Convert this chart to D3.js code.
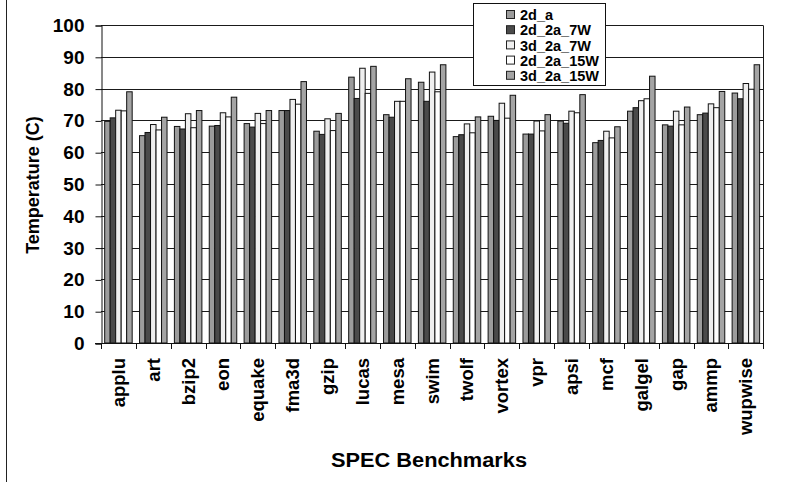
<!DOCTYPE html>
<html>
<head>
<meta charset="utf-8">
<script src="https://cdn.jsdelivr.net/npm/d3@7"></script>
<style>
  html, body { margin: 0; padding: 0; background: #fff; }
  svg text { font-family: Arial, "Liberation Sans", sans-serif; font-weight: bold; fill: #000; }
</style>
</head>
<body>
<svg id="chart" width="802" height="482"></svg>
<script>
// Benchmarks on the x axis
const benchmarks = ["applu", "art", "bzip2", "eon", "equake", "fma3d", "gzip", "lucas", "mesa", "swim",
                    "twolf", "vortex", "vpr", "apsi", "mcf", "galgel", "gap", "ammp", "wupwise"];

// Series names (legend order)
const seriesNames = ["2d_a", "2d_2a_7W", "3d_2a_7W", "2d_2a_15W", "3d_2a_15W"];

// Peak temperature (C) per benchmark, one array per configuration
const temp2d_a      = [69.7, 65.2, 68.1, 68.2, 69.0, 73.1, 66.6, 83.6, 71.8, 82.0, 64.9, 71.3, 65.7, 69.8, 63.0, 72.9, 68.6, 71.8, 78.6];
const temp2d_2a_7W  = [70.8, 66.2, 67.3, 68.4, 67.9, 73.1, 65.6, 76.9, 71.0, 76.0, 65.5, 70.0, 65.7, 69.1, 63.7, 74.0, 68.2, 72.3, 76.8];
const temp3d_2a_7W  = [73.2, 68.7, 72.1, 72.4, 72.2, 76.6, 70.5, 86.4, 76.0, 85.2, 68.9, 75.4, 69.8, 72.9, 66.6, 76.2, 72.9, 75.2, 81.6];
const temp2d_2a_15W = [73.0, 67.0, 67.7, 71.1, 69.0, 75.1, 66.8, 78.5, 76.0, 79.0, 66.1, 70.7, 66.7, 72.4, 64.5, 76.8, 68.6, 74.0, 79.8];
const temp3d_2a_15W = [79.0, 71.0, 73.1, 77.3, 73.1, 82.2, 72.2, 87.0, 83.1, 87.5, 71.1, 77.9, 71.8, 78.1, 68.0, 83.9, 74.2, 79.1, 87.5];

// Y axis ticks
const yTicks = [0, 10, 20, 30, 40, 50, 60, 70, 80, 90, 100];

const seriesValues = [temp2d_a, temp2d_2a_7W, temp3d_2a_7W, temp2d_2a_15W, temp3d_2a_15W];
const seriesFill = ["#9c9c9c", "#4a4a4a", "#efefef", "#ffffff", "#a4a4a4"];

const svg = d3.select("#chart");
svg.append("rect").attr("width", 802).attr("height", 482).attr("fill", "#fff");

// frame line along the left edge
svg.append("line").attr("x1", 6.5).attr("x2", 6.5).attr("y1", 0).attr("y2", 482)
  .attr("stroke", "#222").attr("stroke-width", 1);

const plotLeft = 101, plotRight = 763.3, plotTop = 25, plotBottom = 343;

const x = d3.scaleBand().domain(benchmarks).range([plotLeft, plotRight]).padding(0);
const y = d3.scaleLinear().domain([0, 100]).range([plotBottom, plotTop]);
const groupW = 27.5;
const xs = d3.scaleBand().domain(seriesNames).range([0, groupW]).padding(0);

// horizontal grid lines
svg.append("g").selectAll("line").data(yTicks.filter(d => d > 0)).join("line")
  .attr("x1", plotLeft).attr("x2", plotRight)
  .attr("y1", d => Math.round(y(d)) + 0.5).attr("y2", d => Math.round(y(d)) + 0.5)
  .attr("stroke", "#1a1a1a").attr("stroke-width", 1);

// right border of the plot
svg.append("line").attr("x1", Math.round(plotRight) + 0.5).attr("x2", Math.round(plotRight) + 0.5)
  .attr("y1", Math.round(y(100)) + 0.5).attr("y2", plotBottom + 0.5)
  .attr("stroke", "#1a1a1a");

// bars
const groups = svg.append("g").selectAll("g").data(benchmarks).join("g")
  .attr("transform", d => `translate(${x(d) + (x.bandwidth() - groupW) / 2},0)`);
groups.selectAll("rect")
  .data((b, i) => seriesNames.map((s, k) => ({ s, k, v: seriesValues[k][i] })))
  .join("rect")
  .attr("x", d => xs(d.s))
  .attr("width", xs.bandwidth())
  .attr("y", d => y(d.v))
  .attr("height", d => plotBottom - y(d.v))
  .attr("fill", d => seriesFill[d.k])
  .attr("stroke", "#111")
  .attr("stroke-width", 1);

// y axis
const yAxis = svg.append("g").attr("transform", `translate(${plotLeft + 0.5},0.5)`)
  .call(d3.axisLeft(y).tickValues(yTicks).tickSize(6).tickPadding(11));
yAxis.select(".domain").attr("stroke", "#111");
yAxis.selectAll(".tick line").attr("stroke", "#111");
yAxis.selectAll("text").attr("font-size", 19).attr("font-family", "Arial, 'Liberation Sans', sans-serif");

// x axis baseline and ticks at category boundaries
svg.append("line").attr("x1", plotLeft - 6).attr("x2", Math.round(plotRight) + 1)
  .attr("y1", plotBottom + 0.5).attr("y2", plotBottom + 0.5).attr("stroke", "#111");
const boundaries = benchmarks.map(b => x(b)).concat([plotRight]);
svg.append("g").selectAll("line").data(boundaries).join("line")
  .attr("x1", d => Math.round(d) + 0.5).attr("x2", d => Math.round(d) + 0.5)
  .attr("y1", plotBottom).attr("y2", plotBottom + 6).attr("stroke", "#111");

// category labels, rotated
svg.append("g").selectAll("text").data(benchmarks).join("text")
  .attr("transform", d => `translate(${x(d) + x.bandwidth() / 2},358) rotate(-90)`)
  .attr("text-anchor", "end").attr("dy", "0.35em")
  .attr("font-size", 18.5)
  .text(d => d);

// axis titles
svg.append("text").attr("transform", "translate(39,185) rotate(-90)")
  .attr("text-anchor", "middle").attr("font-size", 18).text("Temperature (C)");
svg.append("text").attr("x", 429).attr("y", 467)
  .attr("text-anchor", "middle").attr("font-size", 20)
  .attr("textLength", 196).attr("lengthAdjust", "spacingAndGlyphs")
  .text("SPEC Benchmarks");

// legend
const lg = svg.append("g");
lg.append("rect").attr("x", 473.5).attr("y", 3.5).attr("width", 132).attr("height", 82)
  .attr("fill", "#fff").attr("stroke", "#111");
const items = lg.selectAll("g").data(seriesNames).join("g")
  .attr("transform", (d, i) => `translate(506,${15 + i * 15.2})`);
items.append("rect").attr("x", 0.5).attr("y", -4.5).attr("width", 8).attr("height", 8)
  .attr("fill", (d, i) => seriesFill[i]).attr("stroke", "#222");
items.append("text").attr("x", 14).attr("dy", "0.36em").attr("font-size", 14.5).text(d => d);
</script>
</body>
</html>
